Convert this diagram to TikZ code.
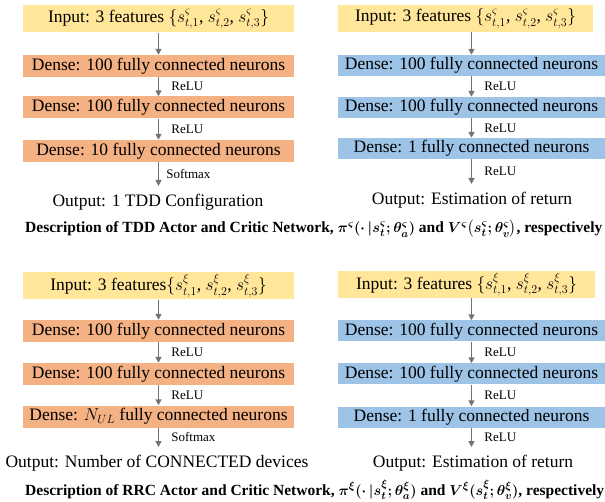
\documentclass[tikz,border=0pt]{standalone}
\usepackage{amsmath,bm}
\usepackage{fontspec}
\setmainfont{Liberation Serif}
\usetikzlibrary{arrows.meta}
\definecolor{ylw}{HTML}{FFE699}
\definecolor{org}{HTML}{F4B183}
\definecolor{blu}{HTML}{9DC3E6}
\definecolor{arrg}{HTML}{737373}
\begin{document}
\begin{tikzpicture}[x=1pt,y=-1pt,
  box/.style={inner sep=0pt, font=\fontsize{17.5}{20}\selectfont, text=black},
  inbox/.style={box, fill=ylw, minimum height=27pt},
  orbox/.style={box, fill=org, minimum width=271pt, minimum height=22pt},
  blbox/.style={box, fill=blu, minimum width=267pt, minimum height=21pt},
  outtxt/.style={inner sep=0pt, font=\fontsize{17.5}{20}\selectfont},
  lbl/.style={inner sep=0pt, anchor=west, xshift=12pt, font=\fontsize{13}{15}\selectfont},
  captxt/.style={inner sep=0pt, anchor=west, font=\fontsize{15.5}{18}\selectfont\bfseries\boldmath},
  arr/.style={draw=arrg, line width=1.8pt, -{Triangle[width=6pt,length=6pt]}}
]
\useasboundingbox (0,0) rectangle (605,502);

% ---------- top left: TDD actor ----------
\node[inbox, minimum width=271pt] (tlin) at (158.5,19)
  {Input: 3 features $\{s^{\varsigma}_{t,1}$, $s^{\varsigma}_{t,2}$, $s^{\varsigma}_{t,3}\}$};
\node[orbox] (tl1) at (158.5,66) {Dense: 100 fully connected neurons};
\node[orbox] (tl2) at (158.5,107.5) {Dense: 100 fully connected neurons};
\node[orbox] (tl3) at (158.5,151) {Dense: 10 fully connected neurons};
\coordinate (tlend) at (158.5,186);
\node[outtxt] (tlout) at (158,202) {Output: 1 TDD Configuration};
\draw[arr] (tlin.south) -- (tl1.north);
\draw[arr] (tl1.south) -- node[lbl] {ReLU} (tl2.north);
\draw[arr] (tl2.south) -- node[lbl] {ReLU} (tl3.north);
\draw[arr] (tl3.south) -- node[lbl, xshift=-5pt] {Softmax} (tlend);

% ---------- top right: TDD critic ----------
\node[inbox, minimum width=255pt] (trin) at (465.5,18.5)
  {Input: 3 features $\{s^{\varsigma}_{t,1}$, $s^{\varsigma}_{t,2}$, $s^{\varsigma}_{t,3}\}$};
\node[blbox] (tr1) at (471.5,65.5) {Dense: 100 fully connected neurons};
\node[blbox] (tr2) at (471.5,107.5) {Dense: 100 fully connected neurons};
\node[blbox] (tr3) at (471.5,148.5) {Dense: 1 fully connected neurons};
\coordinate (trend) at (471.5,184);
\node[outtxt] (trout) at (472,200) {Output: Estimation of return};
\draw[arr] (trin.south -| tr1.north) -- (tr1.north);
\draw[arr] (tr1.south) -- node[lbl] {ReLU} (tr2.north);
\draw[arr] (tr2.south) -- node[lbl] {ReLU} (tr3.north);
\draw[arr] (tr3.south) -- node[lbl] {ReLU} (trend);

\node[captxt] (cap1) at (25,229)
  {Description of TDD Actor and Critic Network, $\pi^{\varsigma}(\cdot\,|s_t^{\varsigma};\theta_a^{\varsigma})$ and $V^{\varsigma}\bigl(s_t^{\varsigma};\theta_v^{\varsigma}\bigr)$, respectively};

% ---------- bottom left: RRC actor ----------
\node[inbox, minimum width=271pt] (blin) at (158.5,286)
  {Input: 3 features$\{s^{\xi}_{t,1}$, $s^{\xi}_{t,2}$, $s^{\xi}_{t,3}\}$};
\node[orbox] (bl1) at (158.5,331) {Dense: 100 fully connected neurons};
\node[orbox] (bl2) at (158.5,374) {Dense: 100 fully connected neurons};
\node[orbox] (bl3) at (158.5,416.5) {Dense: $N_{UL}$ fully connected neurons};
\coordinate (blend) at (158.5,447);
\node[outtxt] (blout) at (157,463) {Output: Number of CONNECTED devices};
\draw[arr] (blin.south) -- (bl1.north);
\draw[arr] (bl1.south) -- node[lbl] {ReLU} (bl2.north);
\draw[arr] (bl2.south) -- node[lbl] {ReLU} (bl3.north);
\draw[arr] (bl3.south) -- node[lbl] {Softmax} (blend);

% ---------- bottom right: RRC critic ----------
\node[inbox, minimum width=257pt] (brin) at (466.5,284.5)
  {Input: 3 features $\{s^{\xi}_{t,1}$, $s^{\xi}_{t,2}$, $s^{\xi}_{t,3}\}$};
\node[blbox] (br1) at (471.5,331) {Dense: 100 fully connected neurons};
\node[blbox] (br2) at (471.5,374) {Dense: 100 fully connected neurons};
\node[blbox] (br3) at (471.5,417) {Dense: 1 fully connected neurons};
\coordinate (brend) at (471.5,447);
\node[outtxt] (brout) at (473,463) {Output: Estimation of return};
\draw[arr] (brin.south -| br1.north) -- (br1.north);
\draw[arr] (br1.south) -- node[lbl] {ReLU} (br2.north);
\draw[arr] (br2.south) -- node[lbl] {ReLU} (br3.north);
\draw[arr] (br3.south) -- node[lbl] {ReLU} (brend);

\node[captxt] (cap2) at (25,490)
  {Description of RRC Actor and Critic Network, $\pi^{\xi}(\cdot\,|s_t^{\xi};\theta_a^{\xi})$ and $V^{\xi}(s_t^{\xi};\theta_v^{\xi})$, respectively};
\end{tikzpicture}
\end{document}
